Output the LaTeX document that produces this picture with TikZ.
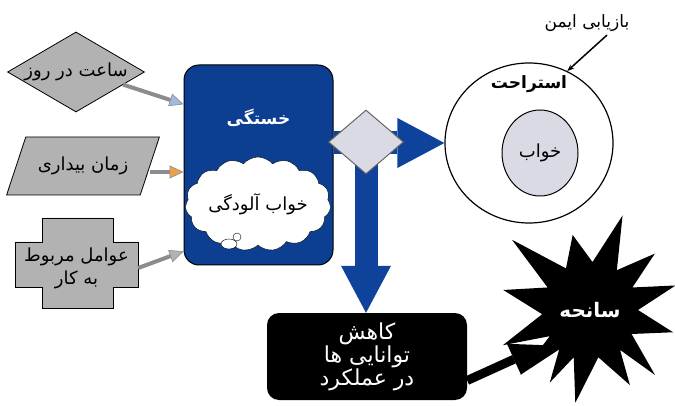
\documentclass[tikz,border=0pt]{standalone}
\usepackage{fontspec}
\newfontfamily\farsifont[Script=Arabic]{DejaVu Sans}
\TeXXeTstate=1
\usetikzlibrary{shapes.geometric,shapes.symbols,arrows.meta,backgrounds}
\definecolor{tiredblue}{RGB}{12,62,145}
\definecolor{arrowblue}{RGB}{14,66,155}
\definecolor{shapegray}{RGB}{178,178,178}
\definecolor{arrowgray}{RGB}{140,140,140}
\definecolor{pastel}{RGB}{218,218,228}
\definecolor{tipblue}{RGB}{160,185,220}
\definecolor{tiporange}{RGB}{235,160,80}
\newcommand\fatext[1]{\beginR #1\endR}

\begin{document}
\begin{tikzpicture}[x=1pt,y=-1pt,
  fa/.style={font=\farsifont\fontsize{18pt}{23pt}\selectfont},
  fabold/.style={font=\farsifont\bfseries\fontsize{17pt}{20pt}\selectfont},
  grayshape/.style={draw=black,fill=shapegray,line width=0.8pt},
  grayarrow/.style={draw=arrowgray,line width=4pt,-{Triangle[length=14pt,width=13pt,color=arrowgray,fill=#1,line width=0.6pt]}},
  bluearrow/.style={draw=arrowblue,line width=23pt,-{Triangle[length=47pt,width=50pt,line width=0pt]}},
  blackarrow/.style={draw=black,line width=9pt,-{Triangle[length=34pt,width=34pt,line width=0pt]}}]
	\useasboundingbox (0,0) rectangle (675,406);

	% inputs on the left
	\node[grayshape,diamond,aspect=1.7,minimum width=137pt,minimum height=80pt,inner sep=0pt,fa]	(clock)	at (76,72)	{\fatext{ساعت در روز}};
	\node[grayshape,trapezium,trapezium left angle=50,trapezium right angle=130,trapezium stretches=true,minimum width=153pt,minimum height=58pt,inner sep=0pt,fa]	(awake)	at (83,166)	{\fatext{زمان بیداری}};
	\draw[grayshape] (15,242) -- (42,242) -- (42,218) -- (113,218) -- (113,242) -- (138,242) -- (138,287) -- (113,287) -- (113,308) -- (42,308) -- (42,287) -- (15,287) -- cycle;
	\node[fa,align=center,minimum width=123pt,minimum height=45pt]	(work)	at (76.5,268)	{\fatext{عوامل مربوط}\\\fatext{به کار}};

	% fatigue box
	\node[draw=black,line width=1pt,fill=tiredblue,rounded corners=15pt,minimum width=149pt,minimum height=200pt]	(tired)	at (258.5,165)	{};
	\node[fabold,text=white]	(tiredlbl)	at ([yshift=-53pt]tired.north)	{\fatext{خستگی}};
	\node[cloud,cloud puffs=15,cloud puff arc=100,aspect=1.8,draw=black,fill=white,minimum width=143pt,minimum height=94pt,inner sep=0pt,fa]	(drowsy)	at (258,204)	{\fatext{خواب آلودگی}};
	\draw[fill=white] (229,244) ellipse [x radius=8, y radius=5];
	\draw[fill=white] (237,237) circle [radius=4];

	% decision and outcomes
	\node[diamond,draw=black!60,line width=1pt,fill=pastel,minimum width=75pt,minimum height=64pt,inner sep=0pt]	(gate)	at (366,142)	{};
	\node[ellipse,draw=black,line width=1.2pt,minimum width=168pt,minimum height=160pt]	(rest)	at (529,143)	{};
	\node[fabold,text=black]	(restlbl)	at ([yshift=-22pt]rest.north)	{\fatext{استراحت}};
	\node[ellipse,draw=black,line width=1pt,fill=pastel,minimum width=76pt,minimum height=86pt,inner sep=0pt,fa]	(sleep)	at (540,153)	{\fatext{خواب}};
	\node[fa,font=\farsifont\fontsize{17pt}{20pt}\selectfont]	(recover)	at (587,23)	{\fatext{بازیابی ایمن}};
	\node[fill=black,rounded corners=12pt,minimum width=200pt,minimum height=87pt,text=white,align=center,font=\farsifont\fontsize{22pt}{20pt}\selectfont]	(perf)	at (367,356.5)	{\fatext{کاهش}\\\fatext{توانایی ها}\\\fatext{در عملکرد}};
	\node[circle,minimum size=114pt,inner sep=0pt,fabold,font=\farsifont\bfseries\fontsize{20pt}{20pt}\selectfont,text=white]	(accident)	at (590,310)	{\fatext{سانحه}};

	\begin{pgfonlayer}{background}
		\begin{scope}[shift={(accident.center)}]
			\fill (167:89pt) -- (152:48pt) -- (138:105pt) -- (120:48pt) -- (103:77pt) -- (87:48pt) -- (71:100pt) -- (56:48pt)
				-- (41:86pt) -- (28:48pt) -- (16:89pt) -- (0:48pt) -- (-15:86pt) -- (-30:48pt) -- (-45:92pt) -- (-53:50pt)
				-- (-62:85pt) -- (-80:48pt) -- (-99:94pt) -- (-109:50pt) -- (-119:83pt) -- (-128:50pt) -- (-137:95pt)
				-- (-147:48pt) -- (-158:94pt) -- (-175:48pt) -- cycle;
		\end{scope}
		\draw[bluearrow] (tired.east |- rest.west) -- (rest.west);
		\draw[bluearrow] (gate.center) -- (gate.center |- perf.north);
		\draw[blackarrow] ([yshift=-24pt]perf.east) -- (accident.-142);
	\end{pgfonlayer}

	\draw[grayarrow=tipblue] (clock.-15) -- (tired.141);
	\draw[grayarrow=tiporange] ([yshift=-6pt]awake.east) -- ([yshift=-6pt]awake.east -| tired.west);
	\draw[grayarrow=shapegray] (work.east) -- (tired.-131);
	\draw[line width=1.5pt,-{Stealth[length=7pt]}] ([xshift=20pt]recover.south) -- (rest.62);
\end{tikzpicture}
\end{document}
